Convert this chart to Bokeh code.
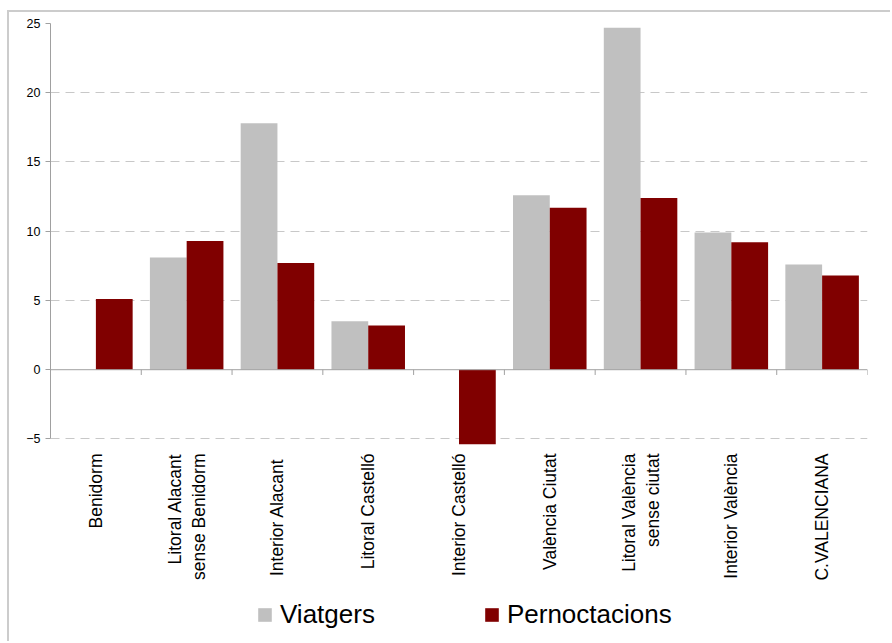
import math
from bokeh.plotting import figure
from bokeh.layouts import column
from bokeh.models import (Range1d, FixedTicker, Span, Legend, LegendItem,
                          ColumnDataSource)
from bokeh.embed import file_html
from bokeh.resources import INLINE

categories = ["Benidorm", "Litoral Alacant\nsense Benidorm", "Interior  Alacant",
              "Litoral Castelló", "Interior Castelló", "València Ciutat",
              "Litoral València\nsense ciutat", "Interior València", "C.VALENCIANA"]
viatgers = [0.0, 8.1, 17.8, 3.5, 0.0, 12.6, 24.7, 9.9, 7.6]
pernoctacions = [5.1, 9.3, 7.7, 3.2, -5.4, 11.7, 12.4, 9.2, 6.8]
y_ticks = [-5, 0, 5, 10, 15, 20, 25]
series_names = ["Viatgers", "Pernoctacions"]

GRAY = "#C0C0C0"
RED = "#800000"
FONT = "Liberation Sans"

n = len(categories)
centers = [i + 0.5 for i in range(n)]
bw = 0.405
y_lo = min(viatgers + pernoctacions)

p = figure(width=883, height=588, output_backend="svg", toolbar_location=None,
           x_range=Range1d(0, n), y_range=Range1d(y_lo, y_ticks[-1]),
           min_border_left=41, min_border_right=23, min_border_top=11,
           min_border_bottom=156)
p.outline_line_color = None
p.background_fill_color = "white"
p.border_fill_color = "white"

src = ColumnDataSource(dict(
    xv=[c - bw / 2 for c in centers],
    xp=[c + bw / 2 for c in centers],
    v=viatgers, pn=pernoctacions))

rv = p.vbar(x="xv", top="v", bottom=0, width=bw, source=src,
            fill_color=GRAY, line_color=None)
rp = p.vbar(x="xp", top="pn", bottom=0, width=bw, source=src,
            fill_color=RED, line_color=None)

# zero line & category boundary ticks
p.add_layout(Span(location=0, dimension="width", line_color="#a0a0a0", line_width=1))
bounds = list(range(1, n + 1))
p.segment(x0=bounds, y0=[0] * n, x1=bounds, y1=[-0.38] * n,
          line_color="#a0a0a0", line_width=1)

# grid
p.xgrid.grid_line_color = None
p.ygrid.ticker = FixedTicker(ticks=[t for t in y_ticks if t != 0])
p.ygrid.grid_line_color = "#c8c8c8"
p.ygrid.grid_line_dash = "9 6"
p.ygrid.grid_line_width = 1

# y axis
p.yaxis.ticker = FixedTicker(ticks=y_ticks)
p.yaxis.bounds = (y_ticks[0], y_ticks[-1])
p.yaxis.axis_line_color = "#a0a0a0"
p.yaxis.major_tick_line_color = "#a0a0a0"
p.yaxis.major_tick_out = 5
p.yaxis.major_tick_in = 0
p.yaxis.minor_tick_line_color = None
p.yaxis.major_label_text_font = FONT
p.yaxis.major_label_text_font_size = "12.5px"
p.yaxis.major_label_text_color = "black"
p.yaxis.major_label_standoff = 5

# x axis (category labels)
p.xaxis.ticker = FixedTicker(ticks=centers)
p.xaxis.major_label_overrides = {c: lab for c, lab in zip(centers, categories)}
p.xaxis.major_label_orientation = math.pi / 2
p.xaxis.axis_line_color = None
p.xaxis.major_tick_line_color = None
p.xaxis.minor_tick_line_color = None
p.xaxis.major_tick_out = 0
p.xaxis.major_tick_in = 0
p.xaxis.major_label_standoff = 9
p.xaxis.major_label_text_font = FONT
p.xaxis.major_label_text_font_size = "17.5px"
p.xaxis.major_label_text_color = "black"

# legend strip (separate figure so the legend is not clipped)
p2 = figure(width=883, height=43, output_backend="svg", toolbar_location=None,
            x_range=Range1d(0, n), y_range=Range1d(1000, 1001),
            x_axis_location=None, y_axis_location=None, min_border=0)
p2.outline_line_color = None
p2.grid.grid_line_color = None
p2.background_fill_color = "white"
p2.border_fill_color = "white"
lv = p2.vbar(x="xv", top="v", bottom=0, width=bw, source=src,
             fill_color=GRAY, line_color=None)
lp = p2.vbar(x="xp", top="pn", bottom=0, width=bw, source=src,
             fill_color=RED, line_color=None)
legend = Legend(items=[LegendItem(label=series_names[0], renderers=[lv]),
                       LegendItem(label=series_names[1], renderers=[lp])],
                orientation="horizontal", location=(206, 13),
                glyph_width=17, glyph_height=17, label_standoff=7, spacing=108,
                padding=0, margin=0, border_line_color=None,
                background_fill_alpha=0,
                label_text_font=FONT, label_text_font_size="26px",
                label_text_color="black")
p2.add_layout(legend, "center")

root = column(p, p2, width=883, height=631, spacing=0,
              styles={"border-left": "2px solid #cccccc",
                      "border-top": "2px solid #cccccc",
                      "margin-left": "7px", "margin-top": "10px"})

open("out.html", "w").write(file_html(root, INLINE))
